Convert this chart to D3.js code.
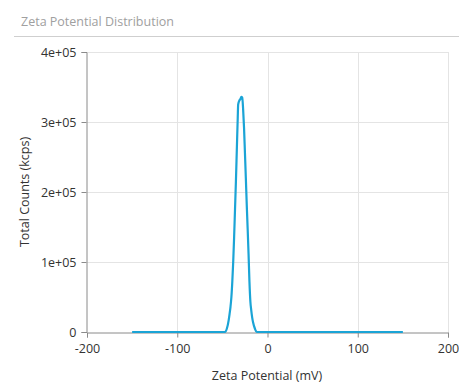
<!DOCTYPE html>
<html><head><meta charset="utf-8">
<script src="https://cdn.jsdelivr.net/npm/d3@7"></script>
<style>
body{margin:0;background:#fff;}
text{font-family:"Open Sans","Noto Sans",sans-serif;}
</style></head>
<body><svg id="c" width="459" height="383"></svg>
<script>
const zeta = [-150,-50,-47,-45,-43,-42,-41,-40,-39,-38,-37,-36,-35,-34,-33,-32.5,-31,-30,-29,-28,-27,-26,-25,-24,-23,-22,-21,-20,-19,-18,-17,-16,-14,-12,-10,150];
const counts = [0,0,0,5000,17000,26000,36000,50000,72000,100000,135000,175000,215000,260000,305000,325000,331000,333000,336000,335000,318000,292000,256000,220000,182000,148000,112000,72000,44000,31000,21000,14000,5000,0,0,0];
const xTicks = [-200,-100,0,100,200];
const yTicks = [0,100000,200000,300000,400000];
const yTickLabels = ["0","1e+05","2e+05","3e+05","4e+05"];

const svg = d3.select("#c");
const x = d3.scaleLinear().domain([-200,200]).range([87,448]);
const y = d3.scaleLinear().domain([0,400000]).range([332,52]);

svg.append("text").attr("x",21).attr("y",26).attr("font-size",12.5).attr("fill","#a0a0a0").text("Zeta Potential Distribution");
svg.append("line").attr("x1",14).attr("x2",459).attr("y1",36.5).attr("y2",36.5).attr("stroke","#cfcfcf").attr("stroke-width",1);

// grid
svg.append("g").selectAll("line").data(xTicks.slice(1)).join("line")
  .attr("x1",d=>Math.round(x(d))+0.5).attr("x2",d=>Math.round(x(d))+0.5)
  .attr("y1",y(400000)).attr("y2",y(0)).attr("stroke","#e4e4e4");
svg.append("g").selectAll("line").data(yTicks.slice(1)).join("line")
  .attr("x1",x(-200)).attr("x2",x(200))
  .attr("y1",d=>Math.round(y(d))+0.5).attr("y2",d=>Math.round(y(d))+0.5).attr("stroke","#e4e4e4");

// axes
const xa = svg.append("g").attr("transform",`translate(0,${y(0)+0.5})`)
  .call(d3.axisBottom(x).tickValues(xTicks).tickSize(5).tickPadding(7).tickFormat(d=>String(d)));
const ya = svg.append("g").attr("transform",`translate(${x(-200)-0.5},0)`)
  .call(d3.axisLeft(y).tickValues(yTicks).tickSize(5).tickPadding(5).tickFormat((d,i)=>yTickLabels[i]));
[xa,ya].forEach(a=>{
  a.selectAll("path,line").attr("stroke","#8a8a8a");
  a.selectAll("text").attr("font-size",12.5).attr("fill","#333").attr("font-family","'Open Sans','Noto Sans',sans-serif");
});

// line
svg.append("path").datum(zeta.map((z,i)=>[z,counts[i]]))
  .attr("d",d3.line().x(d=>x(d[0])).y(d=>y(d[1])).curve(d3.curveMonotoneX))
  .attr("fill","none").attr("stroke","#1ba4d6").attr("stroke-width",2.2).attr("stroke-linejoin","round");

svg.append("text").attr("x",267).attr("y",380).attr("text-anchor","middle").attr("font-size",12.5).attr("fill","#333").text("Zeta Potential (mV)");
svg.append("text").attr("transform","translate(29,192) rotate(-90)").attr("text-anchor","middle").attr("font-size",12.5).attr("fill","#333").text("Total Counts (kcps)");
</script></body></html>
